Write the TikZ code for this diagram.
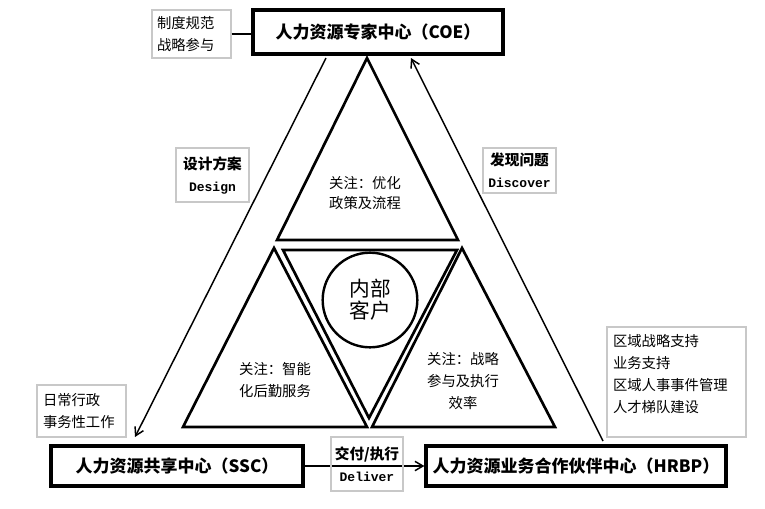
\documentclass[tikz,border=0pt]{standalone}
\usepackage{fontspec}
\usepackage{xcolor}
\usepackage{tikz}
\usetikzlibrary{arrows.meta}
\newfontfamily\cjk{Noto Sans CJK SC}
\newfontfamily\mono{Liberation Mono}
\definecolor{boxgray}{HTML}{C8C8C8}

\tikzset{
  mainbox/.style={draw, line width=2.4pt, inner sep=0pt,
    font=\cjk\bfseries\fontsize{12.75}{15}\selectfont},
  notebox/.style={draw=boxgray, line width=0.8pt, inner ysep=0pt, align=left,
    font=\cjk\fontsize{10.75}{16.5}\selectfont},
  tagbox/.style={draw=boxgray, line width=0.8pt, inner sep=0pt, align=center,
    font=\cjk\bfseries\fontsize{11}{16.5}\selectfont},
  tagword/.style={font=\mono\bfseries\fontsize{9.75}{16.5}\selectfont},
  tri/.style={line width=2pt, line join=miter},
  tritext/.style={align=center, font=\cjk\fontsize{10.75}{16.5}\selectfont},
  flow/.style={line width=1.1pt, -{Straight Barb[length=6pt, width=7pt]}}
}

\begin{document}
\begin{tikzpicture}[x=0.75pt, y=-0.75pt]
  \useasboundingbox (0,0) rectangle (765,508);

  % the three centres
  \node[mainbox, minimum width=187.5pt, minimum height=33pt] (coe) at (378,32)
    {人力资源专家中心（COE）};
  \node[mainbox, minimum width=189pt, minimum height=30pt] (ssc) at (177,466)
    {人力资源共享中心（SSC）};
  \node[mainbox, minimum width=225pt, minimum height=30pt] (hrbp) at (576,466)
    {人力资源业务合作伙伴中心（HRBP）};

  % notes beside the centres
  \node[notebox, text width=51.75pt, inner xsep=3.75pt, minimum height=36pt]
    (coenote) at (191.5,34) {制度规范\\战略参与};
  \node[notebox, text width=57.75pt, inner xsep=4.5pt, minimum height=39pt]
    (sscnote) at (81.5,411) {日常行政\\事务性工作};
  \node[notebox, text width=95.25pt, inner xsep=4.5pt, minimum height=82.5pt]
    (hrbpnote) at (676.5,382)
    {区域战略支持\\业务支持\\区域人事事件管理\\人才梯队建设\rule[-12.5pt]{0pt}{12.5pt}};
  \draw[line width=1.5pt] (coenote.east) -- (coenote.east -| coe.west);

  % triangles
  \draw[tri] (367,58) -- (458,240) -- (277,240) -- cycle;
  \draw[tri] (274,248) -- (367,427) -- (183,427) -- cycle;
  \draw[tri] (462,248) -- (555,427) -- (372,427) -- cycle;
  \draw[tri] (283,250) -- (457,250) -- (369,418) -- cycle;
  \node[draw, circle, line width=1.8pt, minimum size=71pt, inner sep=0pt, align=center,
        font=\cjk\fontsize{15.5}{16.5}\selectfont] (client) at (370,300) {内部\\客户};

  \node[tritext, font=\cjk\fontsize{10.75}{14.6}\selectfont] (coefocus) at (365,193)
    {关注：优化\\政策及流程};
  \node[tritext] (sscfocus) at (275,380) {关注：智能\\化后勤服务};
  \node[tritext] (hrbpfocus) at (463,381) {关注：战略\\参与及执行\\效率};

  % flows between the centres
  \coordinate (designtop) at (326,58);
  \coordinate (designend) at (135,437);
  \coordinate (discstart) at (603,441);
  \coordinate (discend) at (411,58);
  \draw[flow] (designtop) -- (designend);
  \draw[flow] (discstart) -- (discend);
  \draw[flow] (ssc) -- (hrbp);

  \node[tagbox, minimum width=54.75pt, minimum height=40.5pt] (design) at (212.5,175)
    {设计方案\\{\mono\bfseries\fontsize{9.75}{16.5}\selectfont Design}};
  \node[tagbox, minimum width=54.75pt, minimum height=33.75pt] (discover) at (519.5,170.5)
    {发现问题\\{\mono\bfseries\fontsize{9.75}{16.5}\selectfont Discover}};
  \node[tagbox, minimum width=54pt, minimum height=40.5pt] (deliver) at (367,464)
    {交付/执行\\{\mono\bfseries\fontsize{9.75}{16.5}\selectfont Deliver}};
\end{tikzpicture}
\end{document}
